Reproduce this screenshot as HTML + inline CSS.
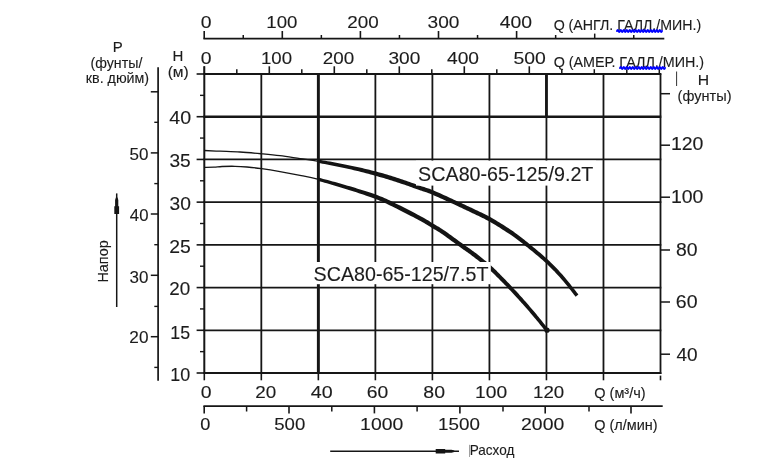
<!DOCTYPE html>
<html><head><meta charset="utf-8"><title>Chart</title>
<style>
html,body{margin:0;padding:0;background:#fff;}
body{width:757px;height:465px;overflow:hidden;font-family:"Liberation Sans",sans-serif;}
svg text{stroke:#1c1c1c;stroke-width:0.12px;}
svg{display:block;will-change:transform;font-family:"Liberation Sans",sans-serif;}
</style></head><body>
<svg width="757" height="465" viewBox="0 0 757 465">
<defs>
<clipPath id="cl"><rect x="0" y="0" width="318.35" height="465"/></clipPath>
<clipPath id="cr"><rect x="318.35" y="0" width="500" height="465"/></clipPath>
</defs>
<rect width="757" height="465" fill="#fff"/>
<line x1="204.30" y1="73.50" x2="204.30" y2="373.80" stroke="#161616" stroke-width="2.0" stroke-linecap="butt"/>
<line x1="261.32" y1="73.50" x2="261.32" y2="373.80" stroke="#161616" stroke-width="1.8" stroke-linecap="butt"/>
<line x1="318.35" y1="73.50" x2="318.35" y2="373.80" stroke="#161616" stroke-width="1.8" stroke-linecap="butt"/>
<line x1="375.38" y1="73.50" x2="375.38" y2="373.80" stroke="#161616" stroke-width="1.8" stroke-linecap="butt"/>
<line x1="432.40" y1="73.50" x2="432.40" y2="373.80" stroke="#161616" stroke-width="1.8" stroke-linecap="butt"/>
<line x1="489.43" y1="73.50" x2="489.43" y2="373.80" stroke="#161616" stroke-width="1.8" stroke-linecap="butt"/>
<line x1="546.45" y1="73.50" x2="546.45" y2="373.80" stroke="#161616" stroke-width="1.8" stroke-linecap="butt"/>
<line x1="603.48" y1="73.50" x2="603.48" y2="373.80" stroke="#161616" stroke-width="1.8" stroke-linecap="butt"/>
<line x1="660.50" y1="73.50" x2="660.50" y2="373.80" stroke="#161616" stroke-width="1.8" stroke-linecap="butt"/>
<line x1="318.35" y1="74.00" x2="318.35" y2="373.00" stroke="#161616" stroke-width="2.9" stroke-linecap="butt"/>
<line x1="546.45" y1="74.00" x2="546.45" y2="116.71" stroke="#161616" stroke-width="2.8" stroke-linecap="butt"/>
<line x1="203.40" y1="74.00" x2="661.30" y2="74.00" stroke="#161616" stroke-width="2.1" stroke-linecap="butt"/>
<line x1="203.40" y1="116.71" x2="661.30" y2="116.71" stroke="#161616" stroke-width="2.6" stroke-linecap="butt"/>
<line x1="203.40" y1="159.43" x2="661.30" y2="159.43" stroke="#161616" stroke-width="1.8" stroke-linecap="butt"/>
<line x1="203.40" y1="202.14" x2="661.30" y2="202.14" stroke="#161616" stroke-width="1.8" stroke-linecap="butt"/>
<line x1="203.40" y1="244.86" x2="661.30" y2="244.86" stroke="#161616" stroke-width="1.8" stroke-linecap="butt"/>
<line x1="203.40" y1="287.57" x2="661.30" y2="287.57" stroke="#161616" stroke-width="1.8" stroke-linecap="butt"/>
<line x1="203.40" y1="330.29" x2="661.30" y2="330.29" stroke="#161616" stroke-width="1.8" stroke-linecap="butt"/>
<line x1="203.40" y1="373.00" x2="661.30" y2="373.00" stroke="#161616" stroke-width="1.8" stroke-linecap="butt"/>
<line x1="196.60" y1="74.00" x2="204.30" y2="74.00" stroke="#161616" stroke-width="1.6" stroke-linecap="butt"/>
<line x1="196.60" y1="116.71" x2="204.30" y2="116.71" stroke="#161616" stroke-width="1.6" stroke-linecap="butt"/>
<line x1="196.60" y1="159.43" x2="204.30" y2="159.43" stroke="#161616" stroke-width="1.6" stroke-linecap="butt"/>
<line x1="196.60" y1="202.14" x2="204.30" y2="202.14" stroke="#161616" stroke-width="1.6" stroke-linecap="butt"/>
<line x1="196.60" y1="244.86" x2="204.30" y2="244.86" stroke="#161616" stroke-width="1.6" stroke-linecap="butt"/>
<line x1="196.60" y1="287.57" x2="204.30" y2="287.57" stroke="#161616" stroke-width="1.6" stroke-linecap="butt"/>
<line x1="196.60" y1="330.29" x2="204.30" y2="330.29" stroke="#161616" stroke-width="1.6" stroke-linecap="butt"/>
<line x1="196.60" y1="373.00" x2="204.30" y2="373.00" stroke="#161616" stroke-width="1.6" stroke-linecap="butt"/>
<line x1="200.00" y1="95.36" x2="204.30" y2="95.36" stroke="#161616" stroke-width="1.4" stroke-linecap="butt"/>
<line x1="200.00" y1="138.07" x2="204.30" y2="138.07" stroke="#161616" stroke-width="1.4" stroke-linecap="butt"/>
<line x1="200.00" y1="180.79" x2="204.30" y2="180.79" stroke="#161616" stroke-width="1.4" stroke-linecap="butt"/>
<line x1="200.00" y1="223.50" x2="204.30" y2="223.50" stroke="#161616" stroke-width="1.4" stroke-linecap="butt"/>
<line x1="200.00" y1="266.21" x2="204.30" y2="266.21" stroke="#161616" stroke-width="1.4" stroke-linecap="butt"/>
<line x1="200.00" y1="308.93" x2="204.30" y2="308.93" stroke="#161616" stroke-width="1.4" stroke-linecap="butt"/>
<line x1="200.00" y1="351.64" x2="204.30" y2="351.64" stroke="#161616" stroke-width="1.4" stroke-linecap="butt"/>
<line x1="204.30" y1="66.30" x2="204.30" y2="74.00" stroke="#161616" stroke-width="1.8" stroke-linecap="butt"/>
<line x1="204.30" y1="373.00" x2="204.30" y2="380.30" stroke="#161616" stroke-width="1.6" stroke-linecap="butt"/>
<line x1="261.32" y1="373.00" x2="261.32" y2="380.30" stroke="#161616" stroke-width="1.6" stroke-linecap="butt"/>
<line x1="318.35" y1="373.00" x2="318.35" y2="380.30" stroke="#161616" stroke-width="1.6" stroke-linecap="butt"/>
<line x1="375.38" y1="373.00" x2="375.38" y2="380.30" stroke="#161616" stroke-width="1.6" stroke-linecap="butt"/>
<line x1="432.40" y1="373.00" x2="432.40" y2="380.30" stroke="#161616" stroke-width="1.6" stroke-linecap="butt"/>
<line x1="489.43" y1="373.00" x2="489.43" y2="380.30" stroke="#161616" stroke-width="1.6" stroke-linecap="butt"/>
<line x1="546.45" y1="373.00" x2="546.45" y2="380.30" stroke="#161616" stroke-width="1.6" stroke-linecap="butt"/>
<line x1="603.48" y1="373.00" x2="603.48" y2="380.30" stroke="#161616" stroke-width="1.6" stroke-linecap="butt"/>
<line x1="660.50" y1="373.00" x2="660.50" y2="380.30" stroke="#161616" stroke-width="1.6" stroke-linecap="butt"/>
<rect x="658.50" y="374.00" width="4.00" height="1.60" fill="#fff"/>
<path d="M204.30,150.50 C206.92,150.62 214.05,150.95 220.00,151.20 C225.95,151.45 233.07,151.57 240.00,152.00 C246.93,152.43 254.93,153.18 261.60,153.80 C268.27,154.42 273.60,154.90 280.00,155.70 C286.40,156.50 293.57,157.67 300.00,158.60 C306.43,159.53 310.77,159.95 318.60,161.30 C326.43,162.65 337.48,164.65 347.00,166.70 C356.52,168.75 366.87,171.22 375.70,173.60 C384.53,175.98 392.62,178.60 400.00,181.00 C407.38,183.40 414.62,186.12 420.00,188.00 C425.38,189.88 426.52,189.90 432.30,192.30 C438.08,194.70 448.08,199.37 454.70,202.40 C461.32,205.43 466.18,207.70 472.00,210.50 C477.82,213.30 483.15,215.57 489.60,219.20 C496.05,222.83 504.42,228.03 510.70,232.30 C516.98,236.57 521.27,239.95 527.30,244.80 C533.33,249.65 541.12,256.03 546.90,261.40 C552.68,266.77 556.98,271.30 562.00,277.00 C567.02,282.70 574.50,292.50 577.00,295.60" fill="none" stroke="#161616" stroke-width="1.3" clip-path="url(#cl)"/>
<path d="M318.33,162.88 L320.34,163.24 L322.48,163.64 L324.71,164.06 L327.03,164.50 L329.41,164.95 L331.85,165.43 L334.32,165.92 L336.81,166.42 L339.30,166.94 L341.77,167.46 L344.22,167.98 L346.61,168.51 L348.99,169.05 L351.40,169.61 L353.83,170.18 L356.27,170.76 L358.71,171.35 L361.14,171.96 L363.56,172.56 L365.96,173.18 L368.32,173.79 L370.65,174.41 L372.93,175.02 L375.15,175.64 L377.32,176.25 L379.46,176.88 L381.58,177.49 L383.67,178.10 L385.73,178.73 L387.76,179.35 L389.76,179.97 L391.73,180.59 L393.67,181.21 L395.59,181.83 L397.48,182.44 L399.33,183.04 L401.16,183.65 L402.98,184.26 L404.78,184.87 L406.56,185.49 L408.31,186.11 L410.03,186.72 L411.70,187.32 L413.34,187.90 L414.92,188.47 L416.44,189.02 L417.90,189.54 L419.29,190.03 L420.57,190.47 L421.71,190.85 L422.73,191.18 L423.65,191.47 L424.51,191.74 L425.34,192.00 L426.17,192.27 L427.03,192.57 L427.95,192.90 L428.98,193.29 L430.15,193.74 L431.48,194.29 L432.98,194.92 L434.65,195.64 L436.44,196.43 L438.33,197.27 L440.29,198.16 L442.30,199.07 L444.32,199.99 L446.34,200.92 L448.32,201.83 L450.25,202.72 L452.08,203.56 L453.80,204.35 L455.42,205.10 L456.98,205.81 L458.47,206.50 L459.93,207.18 L461.35,207.84 L462.74,208.49 L464.11,209.13 L465.48,209.77 L466.85,210.42 L468.23,211.08 L469.64,211.75 L471.07,212.44 L472.52,213.13 L473.96,213.81 L475.39,214.48 L476.80,215.14 L478.22,215.80 L479.63,216.48 L481.06,217.17 L482.50,217.88 L483.97,218.61 L485.46,219.39 L486.98,220.21 L488.55,221.07 L490.18,222.00 L491.88,222.99 L493.63,224.03 L495.43,225.10 L497.25,226.21 L499.08,227.34 L500.90,228.48 L502.71,229.63 L504.49,230.77 L506.22,231.90 L507.90,232.99 L509.50,234.06 L511.02,235.09 L512.47,236.10 L513.87,237.08 L515.22,238.05 L516.53,239.02 L517.83,239.99 L519.13,240.97 L520.44,241.98 L521.77,243.02 L523.13,244.09 L524.55,245.21 L526.03,246.38 L527.57,247.62 L529.17,248.91 L530.82,250.24 L532.51,251.61 L534.21,253.00 L535.92,254.42 L537.63,255.85 L539.31,257.27 L540.96,258.69 L542.57,260.09 L544.12,261.47 L545.59,262.81 L547.00,264.12 L548.36,265.40 L549.66,266.66 L550.93,267.90 L552.17,269.14 L553.39,270.38 L554.58,271.62 L555.78,272.88 L556.97,274.17 L558.17,275.48 L559.38,276.82 L560.62,278.21 L561.91,279.69 L563.28,281.31 L564.71,283.02 L566.16,284.80 L567.61,286.60 L569.04,288.38 L570.42,290.12 L571.72,291.76 L572.92,293.28 L573.99,294.63 L574.90,295.78 L575.63,296.69 L578.37,294.51 L577.65,293.60 L576.75,292.45 L575.70,291.10 L574.51,289.57 L573.22,287.92 L571.84,286.17 L570.42,284.36 L568.97,282.53 L567.51,280.73 L566.08,278.98 L564.69,277.32 L563.38,275.79 L562.14,274.37 L560.91,273.00 L559.71,271.66 L558.51,270.35 L557.30,269.05 L556.09,267.77 L554.86,266.50 L553.61,265.22 L552.32,263.94 L551.00,262.65 L549.63,261.33 L548.21,259.99 L546.71,258.61 L545.15,257.19 L543.53,255.76 L541.87,254.30 L540.17,252.85 L538.47,251.39 L536.75,249.95 L535.05,248.53 L533.36,247.13 L531.72,245.78 L530.12,244.47 L528.57,243.22 L527.10,242.02 L525.69,240.88 L524.32,239.79 L522.98,238.72 L521.67,237.69 L520.35,236.67 L519.03,235.67 L517.70,234.67 L516.32,233.66 L514.91,232.65 L513.44,231.61 L511.90,230.54 L510.27,229.44 L508.58,228.31 L506.83,227.16 L505.03,226.00 L503.20,224.84 L501.35,223.69 L499.49,222.54 L497.65,221.42 L495.83,220.33 L494.05,219.28 L492.32,218.28 L490.65,217.33 L489.04,216.43 L487.46,215.59 L485.93,214.79 L484.42,214.03 L482.95,213.30 L481.49,212.60 L480.05,211.92 L478.63,211.25 L477.21,210.58 L475.79,209.92 L474.37,209.25 L472.93,208.56 L471.49,207.87 L470.08,207.20 L468.70,206.54 L467.32,205.89 L465.94,205.24 L464.56,204.59 L463.16,203.94 L461.74,203.28 L460.28,202.60 L458.77,201.91 L457.22,201.19 L455.60,200.45 L453.88,199.66 L452.04,198.81 L450.12,197.93 L448.13,197.01 L446.11,196.08 L444.08,195.16 L442.06,194.24 L440.09,193.35 L438.18,192.50 L436.37,191.70 L434.67,190.97 L433.12,190.31 L431.75,189.75 L430.53,189.27 L429.44,188.86 L428.45,188.51 L427.53,188.19 L426.66,187.91 L425.81,187.64 L424.94,187.37 L424.03,187.08 L423.05,186.76 L421.95,186.40 L420.71,185.97 L419.33,185.49 L417.89,184.97 L416.37,184.43 L414.79,183.86 L413.16,183.27 L411.47,182.67 L409.75,182.05 L407.98,181.43 L406.18,180.81 L404.36,180.19 L402.52,179.57 L400.67,178.96 L398.80,178.35 L396.91,177.74 L394.99,177.12 L393.03,176.50 L391.05,175.87 L389.03,175.24 L386.98,174.61 L384.90,173.98 L382.79,173.36 L380.64,172.74 L378.46,172.15 L376.25,171.56 L374.00,170.98 L371.69,170.40 L369.33,169.82 L366.94,169.24 L364.51,168.66 L362.07,168.09 L359.61,167.53 L357.15,166.98 L354.68,166.44 L352.23,165.91 L349.80,165.39 L347.39,164.89 L344.97,164.39 L342.50,163.91 L340.00,163.43 L337.49,162.96 L334.98,162.49 L332.49,162.05 L330.03,161.61 L327.63,161.19 L325.30,160.79 L323.05,160.41 L320.90,160.06 L318.87,159.72 Z" fill="#141414"/>
<path d="M204.30,167.30 C205.92,167.28 211.05,167.33 214.00,167.20 C216.95,167.07 218.50,166.65 222.00,166.50 C225.50,166.35 230.83,166.22 235.00,166.30 C239.17,166.38 242.57,166.60 247.00,167.00 C251.43,167.40 256.10,167.93 261.60,168.70 C267.10,169.47 273.60,170.50 280.00,171.60 C286.40,172.70 293.57,174.00 300.00,175.30 C306.43,176.60 310.77,177.38 318.60,179.40 C326.43,181.42 337.48,184.50 347.00,187.40 C356.52,190.30 367.98,193.93 375.70,196.80 C383.42,199.67 385.92,201.02 393.30,204.60 C400.68,208.18 413.50,214.80 420.00,218.30 C426.50,221.80 428.52,223.32 432.30,225.60 C436.08,227.88 437.95,228.77 442.70,232.00 C447.45,235.23 455.25,241.00 460.80,245.00 C466.35,249.00 471.15,252.27 476.00,256.00 C480.85,259.73 485.90,263.87 489.90,267.40 C493.90,270.93 496.52,273.72 500.00,277.20 C503.48,280.68 507.13,284.42 510.80,288.30 C514.47,292.18 517.97,295.97 522.00,300.50 C526.03,305.03 530.85,310.55 535.00,315.50 C539.15,320.45 544.92,327.75 546.90,330.20" fill="none" stroke="#161616" stroke-width="1.3" clip-path="url(#cl)"/>
<path d="M318.20,180.95 L320.21,181.49 L322.34,182.07 L324.57,182.69 L326.89,183.34 L329.27,184.02 L331.70,184.73 L334.17,185.45 L336.66,186.18 L339.15,186.93 L341.62,187.68 L344.06,188.43 L346.46,189.17 L348.87,189.93 L351.33,190.72 L353.84,191.52 L356.37,192.34 L358.90,193.17 L361.41,194.00 L363.88,194.84 L366.30,195.66 L368.63,196.47 L370.87,197.27 L372.99,198.04 L374.97,198.78 L376.77,199.48 L378.39,200.12 L379.85,200.71 L381.21,201.28 L382.49,201.83 L383.73,202.39 L384.97,202.96 L386.24,203.56 L387.58,204.21 L389.03,204.91 L390.61,205.68 L392.36,206.53 L394.30,207.48 L396.43,208.54 L398.71,209.68 L401.09,210.88 L403.53,212.13 L406.00,213.39 L408.45,214.66 L410.84,215.90 L413.13,217.09 L415.27,218.22 L417.24,219.26 L418.98,220.19 L420.50,221.02 L421.85,221.77 L423.06,222.46 L424.14,223.09 L425.13,223.68 L426.04,224.24 L426.90,224.77 L427.73,225.29 L428.55,225.81 L429.39,226.33 L430.26,226.87 L431.19,227.44 L432.11,227.99 L432.97,228.50 L433.77,228.97 L434.54,229.41 L435.29,229.85 L436.04,230.29 L436.80,230.75 L437.60,231.24 L438.45,231.77 L439.37,232.36 L440.38,233.03 L441.49,233.78 L442.72,234.62 L444.07,235.57 L445.50,236.58 L447.02,237.67 L448.58,238.79 L450.19,239.95 L451.81,241.13 L453.43,242.31 L455.03,243.47 L456.60,244.61 L458.11,245.71 L459.54,246.74 L460.92,247.73 L462.27,248.70 L463.59,249.63 L464.89,250.55 L466.16,251.46 L467.41,252.35 L468.65,253.24 L469.87,254.12 L471.09,255.00 L472.29,255.89 L473.49,256.79 L474.69,257.70 L475.90,258.64 L477.11,259.58 L478.33,260.53 L479.54,261.49 L480.74,262.45 L481.93,263.41 L483.10,264.37 L484.25,265.31 L485.37,266.25 L486.46,267.17 L487.51,268.07 L488.52,268.95 L489.49,269.81 L490.40,270.63 L491.26,271.43 L492.10,272.22 L492.91,273.00 L493.71,273.77 L494.49,274.55 L495.28,275.33 L496.07,276.13 L496.88,276.94 L497.71,277.77 L498.57,278.62 L499.45,279.50 L500.33,280.38 L501.22,281.27 L502.11,282.16 L503.01,283.07 L503.91,283.99 L504.81,284.91 L505.72,285.84 L506.63,286.78 L507.55,287.73 L508.46,288.68 L509.38,289.64 L510.29,290.61 L511.20,291.57 L512.11,292.53 L513.02,293.50 L513.93,294.47 L514.85,295.46 L515.77,296.46 L516.70,297.47 L517.65,298.51 L518.61,299.57 L519.59,300.65 L520.59,301.76 L521.61,302.90 L522.67,304.09 L523.74,305.30 L524.84,306.53 L525.94,307.79 L527.06,309.06 L528.17,310.34 L529.28,311.62 L530.39,312.90 L531.48,314.17 L532.56,315.43 L533.61,316.67 L534.67,317.94 L535.79,319.28 L536.94,320.68 L538.10,322.09 L539.25,323.51 L540.38,324.90 L541.46,326.24 L542.48,327.50 L543.41,328.67 L544.25,329.70 L544.96,330.59 L545.54,331.30 L548.26,329.10 L547.70,328.39 L546.99,327.51 L546.16,326.47 L545.24,325.30 L544.22,324.02 L543.15,322.67 L542.03,321.27 L540.88,319.84 L539.73,318.40 L538.58,316.99 L537.46,315.63 L536.39,314.33 L535.34,313.07 L534.27,311.80 L533.18,310.51 L532.08,309.22 L530.97,307.92 L529.86,306.63 L528.75,305.34 L527.65,304.07 L526.56,302.82 L525.48,301.60 L524.44,300.40 L523.41,299.24 L522.42,298.12 L521.44,297.02 L520.48,295.95 L519.53,294.90 L518.60,293.87 L517.68,292.85 L516.76,291.85 L515.86,290.86 L514.95,289.88 L514.04,288.91 L513.13,287.93 L512.22,286.96 L511.31,285.98 L510.39,285.01 L509.48,284.05 L508.57,283.10 L507.66,282.15 L506.75,281.21 L505.85,280.28 L504.96,279.36 L504.07,278.45 L503.18,277.55 L502.30,276.66 L501.43,275.78 L500.58,274.92 L499.76,274.08 L498.96,273.27 L498.17,272.46 L497.38,271.66 L496.58,270.86 L495.77,270.06 L494.94,269.25 L494.09,268.43 L493.20,267.59 L492.26,266.73 L491.28,265.85 L490.25,264.93 L489.18,264.00 L488.08,263.06 L486.95,262.09 L485.79,261.12 L484.61,260.14 L483.41,259.16 L482.20,258.17 L480.98,257.19 L479.76,256.21 L478.54,255.25 L477.31,254.30 L476.08,253.36 L474.86,252.44 L473.63,251.54 L472.40,250.64 L471.16,249.74 L469.91,248.85 L468.65,247.95 L467.37,247.05 L466.08,246.13 L464.76,245.19 L463.42,244.24 L462.06,243.26 L460.63,242.22 L459.13,241.13 L457.56,240.00 L455.96,238.83 L454.34,237.65 L452.71,236.47 L451.10,235.31 L449.52,234.17 L448.00,233.08 L446.54,232.05 L445.17,231.09 L443.91,230.22 L442.76,229.45 L441.72,228.76 L440.76,228.14 L439.87,227.58 L439.03,227.07 L438.24,226.60 L437.47,226.14 L436.70,225.70 L435.94,225.25 L435.14,224.79 L434.31,224.30 L433.41,223.76 L432.51,223.21 L431.66,222.69 L430.84,222.17 L430.02,221.65 L429.18,221.12 L428.30,220.57 L427.35,220.00 L426.33,219.39 L425.21,218.73 L423.96,218.02 L422.57,217.25 L421.02,216.41 L419.26,215.47 L417.28,214.42 L415.12,213.28 L412.82,212.08 L410.42,210.84 L407.96,209.57 L405.49,208.30 L403.03,207.05 L400.64,205.84 L398.35,204.69 L396.20,203.63 L394.24,202.67 L392.49,201.82 L390.91,201.04 L389.46,200.34 L388.10,199.68 L386.79,199.07 L385.52,198.47 L384.22,197.90 L382.89,197.32 L381.48,196.73 L379.96,196.13 L378.28,195.50 L376.43,194.82 L374.40,194.10 L372.24,193.35 L369.96,192.59 L367.59,191.81 L365.14,191.02 L362.64,190.22 L360.10,189.43 L357.54,188.64 L354.99,187.86 L352.46,187.09 L349.97,186.35 L347.54,185.63 L345.12,184.92 L342.65,184.20 L340.15,183.49 L337.64,182.79 L335.13,182.09 L332.63,181.41 L330.18,180.75 L327.77,180.11 L325.44,179.49 L323.18,178.91 L321.03,178.36 L319.00,177.85 Z" fill="#141414"/>
<circle cx="547" cy="330.2" r="2.6" fill="#141414"/>
<rect x="416.00" y="160.60" width="180.00" height="25.00" fill="#fff"/>
<text transform="translate(418.11,181.20) scale(0.9957,1)" font-size="19.8" fill="#1c1c1c" >SCA80-65-125/9.2T</text>
<rect x="311.50" y="262.00" width="179.30" height="22.20" fill="#fff"/>
<text transform="translate(313.61,280.80) scale(0.9934,1)" font-size="19.8" fill="#1c1c1c" >SCA80-65-125/7.5T</text>
<line x1="203.40" y1="38.70" x2="664.30" y2="38.70" stroke="#161616" stroke-width="1.7" stroke-linecap="butt"/>
<line x1="204.20" y1="31.00" x2="204.20" y2="38.70" stroke="#161616" stroke-width="1.6" stroke-linecap="butt"/>
<line x1="243.25" y1="35.00" x2="243.25" y2="38.70" stroke="#161616" stroke-width="1.5" stroke-linecap="butt"/>
<line x1="282.30" y1="31.00" x2="282.30" y2="38.70" stroke="#161616" stroke-width="1.6" stroke-linecap="butt"/>
<line x1="321.35" y1="35.00" x2="321.35" y2="38.70" stroke="#161616" stroke-width="1.5" stroke-linecap="butt"/>
<line x1="360.40" y1="31.00" x2="360.40" y2="38.70" stroke="#161616" stroke-width="1.6" stroke-linecap="butt"/>
<line x1="399.45" y1="35.00" x2="399.45" y2="38.70" stroke="#161616" stroke-width="1.5" stroke-linecap="butt"/>
<line x1="438.50" y1="31.00" x2="438.50" y2="38.70" stroke="#161616" stroke-width="1.6" stroke-linecap="butt"/>
<line x1="477.55" y1="35.00" x2="477.55" y2="38.70" stroke="#161616" stroke-width="1.5" stroke-linecap="butt"/>
<line x1="516.60" y1="31.00" x2="516.60" y2="38.70" stroke="#161616" stroke-width="1.6" stroke-linecap="butt"/>
<line x1="555.65" y1="35.00" x2="555.65" y2="38.70" stroke="#161616" stroke-width="1.5" stroke-linecap="butt"/>
<line x1="594.70" y1="33.60" x2="594.70" y2="38.70" stroke="#161616" stroke-width="1.5" stroke-linecap="butt"/>
<line x1="633.75" y1="35.00" x2="633.75" y2="38.70" stroke="#161616" stroke-width="1.5" stroke-linecap="butt"/>
<text transform="translate(200.84,28.20) scale(1.1223,1)" font-size="17.3" fill="#1c1c1c" >0</text>
<text transform="translate(266.28,28.20) scale(1.0787,1)" font-size="17.3" fill="#1c1c1c" >100</text>
<text transform="translate(347.26,28.20) scale(1.0902,1)" font-size="17.3" fill="#1c1c1c" >200</text>
<text transform="translate(427.57,28.20) scale(1.1038,1)" font-size="17.3" fill="#1c1c1c" >300</text>
<text transform="translate(499.77,28.20) scale(1.1216,1)" font-size="17.3" fill="#1c1c1c" >400</text>
<text transform="translate(553.63,30.30) scale(1.0155,1)" font-size="14.0" fill="#1c1c1c" >Q (АНГЛ. ГАЛЛ./МИН.)</text>
<line x1="204.30" y1="66.30" x2="204.30" y2="74.00" stroke="#161616" stroke-width="1.6" stroke-linecap="butt"/>
<line x1="236.80" y1="69.20" x2="236.80" y2="74.00" stroke="#161616" stroke-width="1.5" stroke-linecap="butt"/>
<line x1="269.30" y1="66.30" x2="269.30" y2="74.00" stroke="#161616" stroke-width="1.6" stroke-linecap="butt"/>
<line x1="301.80" y1="69.20" x2="301.80" y2="74.00" stroke="#161616" stroke-width="1.5" stroke-linecap="butt"/>
<line x1="334.30" y1="66.30" x2="334.30" y2="74.00" stroke="#161616" stroke-width="1.6" stroke-linecap="butt"/>
<line x1="366.80" y1="69.20" x2="366.80" y2="74.00" stroke="#161616" stroke-width="1.5" stroke-linecap="butt"/>
<line x1="399.30" y1="66.30" x2="399.30" y2="74.00" stroke="#161616" stroke-width="1.6" stroke-linecap="butt"/>
<line x1="431.80" y1="69.20" x2="431.80" y2="74.00" stroke="#161616" stroke-width="1.5" stroke-linecap="butt"/>
<line x1="464.30" y1="66.30" x2="464.30" y2="74.00" stroke="#161616" stroke-width="1.6" stroke-linecap="butt"/>
<line x1="496.80" y1="69.20" x2="496.80" y2="74.00" stroke="#161616" stroke-width="1.5" stroke-linecap="butt"/>
<line x1="529.30" y1="66.30" x2="529.30" y2="74.00" stroke="#161616" stroke-width="1.6" stroke-linecap="butt"/>
<line x1="561.80" y1="69.20" x2="561.80" y2="74.00" stroke="#161616" stroke-width="1.5" stroke-linecap="butt"/>
<line x1="594.30" y1="69.20" x2="594.30" y2="74.00" stroke="#161616" stroke-width="1.5" stroke-linecap="butt"/>
<line x1="626.80" y1="69.20" x2="626.80" y2="74.00" stroke="#161616" stroke-width="1.5" stroke-linecap="butt"/>
<line x1="659.30" y1="69.20" x2="659.30" y2="74.00" stroke="#161616" stroke-width="1.5" stroke-linecap="butt"/>
<text transform="translate(200.84,64.40) scale(1.1223,1)" font-size="17.3" fill="#1c1c1c" >0</text>
<text transform="translate(260.98,64.40) scale(1.0787,1)" font-size="17.3" fill="#1c1c1c" >100</text>
<text transform="translate(322.76,64.40) scale(1.0902,1)" font-size="17.3" fill="#1c1c1c" >200</text>
<text transform="translate(388.47,64.40) scale(1.1038,1)" font-size="17.3" fill="#1c1c1c" >300</text>
<text transform="translate(446.98,64.40) scale(1.1108,1)" font-size="17.3" fill="#1c1c1c" >400</text>
<text transform="translate(513.42,64.40) scale(1.1234,1)" font-size="17.3" fill="#1c1c1c" >500</text>
<text transform="translate(553.63,66.50) scale(1.0243,1)" font-size="14.0" fill="#1c1c1c" >Q (АМЕР. ГАЛЛ./МИН.)</text>
<path d="M617.0,31.0 q0.75,-2.0 1.5,0 q0.75,2.0 1.5,0 q0.75,-2.0 1.5,0 q0.75,2.0 1.5,0 q0.75,-2.0 1.5,0 q0.75,2.0 1.5,0 q0.75,-2.0 1.5,0 q0.75,2.0 1.5,0 q0.75,-2.0 1.5,0 q0.75,2.0 1.5,0 q0.75,-2.0 1.5,0 q0.75,2.0 1.5,0 q0.75,-2.0 1.5,0 q0.75,2.0 1.5,0 q0.75,-2.0 1.5,0 q0.75,2.0 1.5,0 q0.75,-2.0 1.5,0 q0.75,2.0 1.5,0 q0.75,-2.0 1.5,0 q0.75,2.0 1.5,0 q0.75,-2.0 1.5,0 q0.75,2.0 1.5,0 q0.75,-2.0 1.5,0 q0.75,2.0 1.5,0 q0.75,-2.0 1.5,0 q0.75,2.0 1.5,0 q0.75,-2.0 1.5,0 q0.75,2.0 1.5,0 q0.75,-2.0 1.5,0 q0.75,2.0 1.5,0" fill="none" stroke="#0000ff" stroke-width="2.0" stroke-linecap="round" stroke-linejoin="round"/>
<path d="M620.0,68.0 q0.75,-2.0 1.5,0 q0.75,2.0 1.5,0 q0.75,-2.0 1.5,0 q0.75,2.0 1.5,0 q0.75,-2.0 1.5,0 q0.75,2.0 1.5,0 q0.75,-2.0 1.5,0 q0.75,2.0 1.5,0 q0.75,-2.0 1.5,0 q0.75,2.0 1.5,0 q0.75,-2.0 1.5,0 q0.75,2.0 1.5,0 q0.75,-2.0 1.5,0 q0.75,2.0 1.5,0 q0.75,-2.0 1.5,0 q0.75,2.0 1.5,0 q0.75,-2.0 1.5,0 q0.75,2.0 1.5,0 q0.75,-2.0 1.5,0 q0.75,2.0 1.5,0 q0.75,-2.0 1.5,0 q0.75,2.0 1.5,0 q0.75,-2.0 1.5,0 q0.75,2.0 1.5,0 q0.75,-2.0 1.5,0 q0.75,2.0 1.5,0 q0.75,-2.0 1.5,0 q0.75,2.0 1.5,0 q0.75,-2.0 1.5,0 q0.75,2.0 1.5,0" fill="none" stroke="#0000ff" stroke-width="2.0" stroke-linecap="round" stroke-linejoin="round"/>
<text transform="translate(169.37,123.71) scale(1.1180,1)" font-size="17.6" fill="#1c1c1c" >40</text>
<text transform="translate(169.47,166.63) scale(1.0891,1)" font-size="17.6" fill="#1c1c1c" >35</text>
<text transform="translate(169.57,209.54) scale(1.0914,1)" font-size="17.6" fill="#1c1c1c" >30</text>
<text transform="translate(169.23,252.66) scale(1.1019,1)" font-size="17.6" fill="#1c1c1c" >25</text>
<text transform="translate(169.36,295.07) scale(1.0709,1)" font-size="17.6" fill="#1c1c1c" >20</text>
<text transform="translate(170.35,338.59) scale(1.0107,1)" font-size="17.6" fill="#1c1c1c" >15</text>
<text transform="translate(170.34,381.10) scale(1.0191,1)" font-size="17.6" fill="#1c1c1c" >10</text>
<text transform="translate(172.57,61.20) scale(1.0733,1)" font-size="14.0" fill="#1c1c1c" >Н</text>
<text transform="translate(167.63,77.30) scale(1.1150,1)" font-size="14.0" fill="#1c1c1c" >(м)</text>
<line x1="158.10" y1="67.20" x2="158.10" y2="380.80" stroke="#161616" stroke-width="1.7" stroke-linecap="butt"/>
<line x1="150.80" y1="91.80" x2="158.10" y2="91.80" stroke="#161616" stroke-width="1.5" stroke-linecap="butt"/>
<line x1="150.80" y1="152.90" x2="158.10" y2="152.90" stroke="#161616" stroke-width="1.5" stroke-linecap="butt"/>
<line x1="150.80" y1="214.00" x2="158.10" y2="214.00" stroke="#161616" stroke-width="1.5" stroke-linecap="butt"/>
<line x1="150.80" y1="275.30" x2="158.10" y2="275.30" stroke="#161616" stroke-width="1.5" stroke-linecap="butt"/>
<line x1="150.80" y1="336.70" x2="158.10" y2="336.70" stroke="#161616" stroke-width="1.5" stroke-linecap="butt"/>
<line x1="154.30" y1="122.30" x2="158.10" y2="122.30" stroke="#161616" stroke-width="1.4" stroke-linecap="butt"/>
<line x1="154.30" y1="183.60" x2="158.10" y2="183.60" stroke="#161616" stroke-width="1.4" stroke-linecap="butt"/>
<line x1="154.30" y1="244.70" x2="158.10" y2="244.70" stroke="#161616" stroke-width="1.4" stroke-linecap="butt"/>
<line x1="154.30" y1="306.40" x2="158.10" y2="306.40" stroke="#161616" stroke-width="1.4" stroke-linecap="butt"/>
<line x1="154.30" y1="367.40" x2="158.10" y2="367.40" stroke="#161616" stroke-width="1.4" stroke-linecap="butt"/>
<text transform="translate(129.52,160.00) scale(1.0254,1)" font-size="16.6" fill="#1c1c1c" >50</text>
<text transform="translate(129.83,220.50) scale(1.0078,1)" font-size="16.6" fill="#1c1c1c" >40</text>
<text transform="translate(129.55,282.80) scale(1.0234,1)" font-size="16.6" fill="#1c1c1c" >30</text>
<text transform="translate(129.34,343.20) scale(1.0354,1)" font-size="16.6" fill="#1c1c1c" >20</text>
<text transform="translate(112.67,51.90) scale(1.0721,1)" font-size="14.0" fill="#1c1c1c" >Р</text>
<text transform="translate(90.52,67.90) scale(1.0147,1)" font-size="14.0" fill="#1c1c1c" >(фунты/</text>
<text transform="translate(85.84,83.30) scale(1.0197,1)" font-size="14.0" fill="#1c1c1c" >кв. дюйм)</text>
<line x1="116.70" y1="193.40" x2="116.70" y2="307.00" stroke="#161616" stroke-width="1.5" stroke-linecap="butt"/>
<path d="M115.9,197.4 L117.5,197.4 L118.3,200 L118.3,206.3 L119.10000000000001,206.3 L119.10000000000001,213.9 L114.3,213.9 L114.3,206.3 L115.10000000000001,206.3 L115.10000000000001,200 Z" fill="#141414"/>
<text transform="translate(108.1,281.4) rotate(-90) scale(1.0299,1) translate(-1.15,0)" font-size="14.0" fill="#1c1c1c">Напор</text>
<line x1="660.50" y1="93.70" x2="670.00" y2="93.70" stroke="#161616" stroke-width="1.5" stroke-linecap="butt"/>
<line x1="660.50" y1="145.20" x2="670.00" y2="145.20" stroke="#161616" stroke-width="1.5" stroke-linecap="butt"/>
<line x1="660.50" y1="197.20" x2="670.00" y2="197.20" stroke="#161616" stroke-width="1.5" stroke-linecap="butt"/>
<line x1="660.50" y1="250.00" x2="670.00" y2="250.00" stroke="#161616" stroke-width="1.5" stroke-linecap="butt"/>
<line x1="660.50" y1="302.00" x2="670.00" y2="302.00" stroke="#161616" stroke-width="1.5" stroke-linecap="butt"/>
<line x1="660.50" y1="354.20" x2="670.00" y2="354.20" stroke="#161616" stroke-width="1.5" stroke-linecap="butt"/>
<text transform="translate(670.92,150.00) scale(1.1078,1)" font-size="17.6" fill="#1c1c1c" >120</text>
<text transform="translate(670.92,202.80) scale(1.1078,1)" font-size="17.6" fill="#1c1c1c" >100</text>
<text transform="translate(675.97,256.00) scale(1.1022,1)" font-size="17.6" fill="#1c1c1c" >80</text>
<text transform="translate(675.82,308.30) scale(1.1097,1)" font-size="17.6" fill="#1c1c1c" >60</text>
<text transform="translate(676.38,361.00) scale(1.0802,1)" font-size="17.6" fill="#1c1c1c" >40</text>
<line x1="676.60" y1="71.50" x2="676.60" y2="86.00" stroke="#333" stroke-width="1.0" stroke-linecap="butt"/>
<text transform="translate(697.71,85.20) scale(1.1245,1)" font-size="14.0" fill="#1c1c1c" >Н</text>
<text transform="translate(677.60,100.50) scale(1.0386,1)" font-size="14.0" fill="#1c1c1c" >(фунты)</text>
<text transform="translate(200.84,398.40) scale(1.1985,1)" font-size="16.2" fill="#1c1c1c" >0</text>
<text transform="translate(255.36,398.40) scale(1.1634,1)" font-size="16.2" fill="#1c1c1c" >20</text>
<text transform="translate(310.77,398.40) scale(1.2146,1)" font-size="16.2" fill="#1c1c1c" >40</text>
<text transform="translate(366.83,398.40) scale(1.1936,1)" font-size="16.2" fill="#1c1c1c" >60</text>
<text transform="translate(423.36,398.40) scale(1.2034,1)" font-size="16.2" fill="#1c1c1c" >80</text>
<text transform="translate(475.04,398.40) scale(1.1877,1)" font-size="16.2" fill="#1c1c1c" >100</text>
<text transform="translate(533.08,398.40) scale(1.1519,1)" font-size="16.2" fill="#1c1c1c" >120</text>
<text transform="translate(594.22,398.20) scale(1.0536,1)" font-size="13.8" fill="#1c1c1c" >Q (м³/ч)</text>
<line x1="203.40" y1="406.10" x2="662.70" y2="406.10" stroke="#161616" stroke-width="1.7" stroke-linecap="butt"/>
<line x1="204.20" y1="406.10" x2="204.20" y2="413.40" stroke="#161616" stroke-width="1.6" stroke-linecap="butt"/>
<line x1="246.60" y1="406.10" x2="246.60" y2="411.50" stroke="#161616" stroke-width="1.5" stroke-linecap="butt"/>
<line x1="289.00" y1="406.10" x2="289.00" y2="413.40" stroke="#161616" stroke-width="1.6" stroke-linecap="butt"/>
<line x1="331.80" y1="406.10" x2="331.80" y2="411.50" stroke="#161616" stroke-width="1.5" stroke-linecap="butt"/>
<line x1="374.40" y1="406.10" x2="374.40" y2="413.40" stroke="#161616" stroke-width="1.6" stroke-linecap="butt"/>
<line x1="417.10" y1="406.10" x2="417.10" y2="411.50" stroke="#161616" stroke-width="1.5" stroke-linecap="butt"/>
<line x1="459.90" y1="406.10" x2="459.90" y2="413.40" stroke="#161616" stroke-width="1.6" stroke-linecap="butt"/>
<line x1="503.00" y1="406.10" x2="503.00" y2="411.50" stroke="#161616" stroke-width="1.5" stroke-linecap="butt"/>
<line x1="545.20" y1="406.10" x2="545.20" y2="413.40" stroke="#161616" stroke-width="1.6" stroke-linecap="butt"/>
<line x1="589.00" y1="406.10" x2="589.00" y2="411.50" stroke="#161616" stroke-width="1.5" stroke-linecap="butt"/>
<line x1="631.00" y1="406.10" x2="631.00" y2="413.40" stroke="#161616" stroke-width="1.6" stroke-linecap="butt"/>
<text transform="translate(200.19,430.20) scale(1.1212,1)" font-size="16.2" fill="#1c1c1c" >0</text>
<text transform="translate(274.26,430.20) scale(1.1492,1)" font-size="16.2" fill="#1c1c1c" >500</text>
<text transform="translate(360.12,430.20) scale(1.1995,1)" font-size="16.2" fill="#1c1c1c" >1000</text>
<text transform="translate(438.07,430.20) scale(1.1614,1)" font-size="16.2" fill="#1c1c1c" >1500</text>
<text transform="translate(521.03,430.20) scale(1.1993,1)" font-size="16.2" fill="#1c1c1c" >2000</text>
<text transform="translate(594.22,429.50) scale(1.0483,1)" font-size="13.8" fill="#1c1c1c" >Q (л/мин)</text>
<line x1="330.20" y1="451.20" x2="459.00" y2="451.20" stroke="#161616" stroke-width="1.5" stroke-linecap="butt"/>
<path d="M435.7,448.9 L445.2,448.9 L445.2,449.7 L451.5,449.7 L454.3,450.4 L454.3,452.0 L451.5,452.7 L445.2,452.7 L445.2,453.5 L435.7,453.5 Z" fill="#141414"/>
<line x1="469.50" y1="444.80" x2="469.50" y2="457.00" stroke="#a0a0a0" stroke-width="1.0" stroke-linecap="butt"/>
<text transform="translate(469.69,454.60) scale(0.9694,1)" font-size="14.0" fill="#1c1c1c" >Расход</text>
</svg>
</body></html>
